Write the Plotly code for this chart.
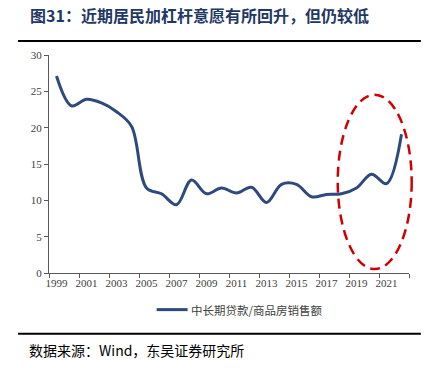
import plotly.graph_objects as go

years = list(range(1999, 2023))
ratio = [27.1, 23.0, 23.9, 23.4, 22.2, 20.2, 11.7, 10.9, 9.4, 12.8, 10.9, 11.7,
         11.0, 11.8, 9.7, 12.2, 12.2, 10.5, 10.8, 10.9, 11.7, 13.6, 12.3, 19.1]
series_name = "中长期贷款/商品房销售额"
x_tick_labels = [str(y) for y in range(1999, 2022, 2)]
y_ticks = [0, 5, 10, 15, 20, 25, 30]

title_text = "图31：近期居民加杠杆意愿有所回升，但仍较低"
source_text = "数据来源：Wind，东吴证券研究所"

serif = "Liberation Serif, Times New Roman, serif"
cjk = "Noto Sans CJK SC"
line_color = "#2E4A7D"

fig = go.Figure()
fig.add_trace(go.Scatter(
    x=years, y=ratio, mode="lines", name=series_name, showlegend=False,
    line=dict(color=line_color, width=3, shape="spline", smoothing=1),
))

fig.update_layout(
    width=431, height=368,
    margin=dict(l=49, r=22, t=55, b=95, autoexpand=False),
    plot_bgcolor="white", paper_bgcolor="white",
    showlegend=False,
    xaxis=dict(range=[1998.5, 2022.5], tickvals=[int(t) for t in x_tick_labels],
               ticktext=x_tick_labels, ticks="", showgrid=False, zeroline=False,
               showline=True, linecolor="#595959", linewidth=1,
               tickfont=dict(family=serif, size=11, color="#404040"),
               minor=dict(ticks="outside", tick0=1998.5, dtick=2, ticklen=4,
                          tickcolor="#595959", showgrid=False)),
    yaxis=dict(range=[0, 30], tickvals=y_ticks, ticks="outside", ticklen=4,
               tickcolor="#595959", showgrid=False, zeroline=False,
               showline=True, linecolor="#595959", linewidth=1,
               tickfont=dict(family=serif, size=11, color="#404040")),
)

# ellipse highlight (paper coords so it is not clipped at the right edge)
fig.add_shape(type="circle", xref="paper", yref="paper", x0=0.802, x1=1.0075, y0=0.018, y1=0.818,
              line=dict(color="#D00000", width=2.5, dash="10px,6px"))

# manual legend
fig.add_shape(type="line", xref="paper", yref="paper", x0=0.299, x1=0.385, y0=-0.168, y1=-0.168,
              line=dict(color=line_color, width=3))
fig.add_annotation(text=series_name, xref="paper", yref="paper",
                   x=0.39, y=-0.168, xanchor="left", yanchor="middle", showarrow=False,
                   font=dict(family=cjk, size=11.5, color="#404040"))

# header/footer rules
fig.add_shape(type="line", xref="paper", yref="paper", x0=-0.086, x1=1.033, y0=1.064, y1=1.064,
              line=dict(color="black", width=2))
fig.add_shape(type="line", xref="paper", yref="paper", x0=-0.086, x1=1.033, y0=-0.279, y1=-0.279,
              line=dict(color="black", width=2))

fig.add_annotation(text="<b>" + title_text + "</b>", xref="paper", yref="paper",
                   x=-0.058, y=1.184, xanchor="left", yanchor="middle", showarrow=False,
                   font=dict(family=cjk, size=16, color="#1F3864"))
fig.add_annotation(text=source_text, xref="paper", yref="paper",
                   x=-0.061, y=-0.351, xanchor="left", yanchor="middle", showarrow=False,
                   font=dict(family=cjk, size=14, color="black"))

fig.write_html("out.html", config={"displayModeBar": False},
               post_script="document.body.style.margin='0';")
